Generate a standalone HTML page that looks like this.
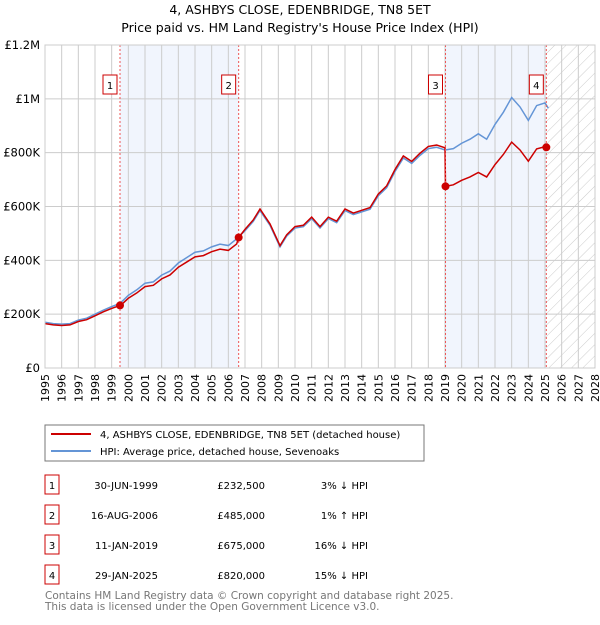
<!DOCTYPE html>
<html><head><meta charset="utf-8"><style>
body{margin:0;background:#fff;font-family:"Liberation Sans","DejaVu Sans",sans-serif;}
svg text{font-family:"DejaVu Sans","Liberation Sans",sans-serif;}
</style></head><body>
<svg id="chart" width="600" height="620" xmlns="http://www.w3.org/2000/svg">
<text x="300" y="14" font-size="12.5" text-anchor="middle">4, ASHBYS CLOSE, EDENBRIDGE, TN8 5ET</text>
<text x="300" y="32" font-size="12.5" text-anchor="middle">Price paid vs. HM Land Registry's House Price Index (HPI)</text>
<defs><pattern id="hatch" width="8" height="8" patternUnits="userSpaceOnUse" patternTransform="rotate(45)"><line x1="0" y1="0" x2="0" y2="8" stroke="#ccc" stroke-width="1"/></pattern></defs>
<g id="plot"></g>
<rect x="45" y="425" width="379" height="36" fill="#fff" stroke="#777"/>
<line x1="51" y1="434" x2="91" y2="434" stroke="#cc0000" stroke-width="2"/>
<text x="100" y="438" font-size="10">4, ASHBYS CLOSE, EDENBRIDGE, TN8 5ET (detached house)</text>
<line x1="51" y1="451" x2="91" y2="451" stroke="#6495d6" stroke-width="2"/>
<text x="100" y="455" font-size="10">HPI: Average price, detached house, Sevenoaks</text>
<g id="table" font-size="10"></g>
<text x="45" y="599" font-size="10.5" fill="#777">Contains HM Land Registry data © Crown copyright and database right 2025.</text>
<text x="45" y="610" font-size="10.5" fill="#777">This data is licensed under the Open Government Licence v3.0.</text>
</svg>
<script>
const hpiYears=[1995,1995.5,1996,1996.5,1997,1997.5,1998,1998.5,1999,1999.5,2000,2000.5,2001,2001.5,2002,2002.5,2003,2003.5,2004,2004.5,2005,2005.5,2006,2006.5,2007,2007.5,2007.9,2008.5,2009.1,2009.5,2010,2010.5,2011,2011.5,2012,2012.5,2013,2013.5,2014,2014.5,2015,2015.5,2016,2016.5,2017,2017.5,2018,2018.5,2019,2019.5,2020,2020.5,2021,2021.5,2022,2022.5,2023,2023.5,2024,2024.5,2025,2025.2];
const hpiValues=[170,165,163,165,178,185,200,215,228,240,270,290,315,320,345,360,390,410,430,435,450,460,455,480,510,545,585,530,450,490,520,525,555,520,555,540,585,570,580,590,640,670,730,780,760,790,815,820,810,815,835,850,870,850,905,950,1005,970,920,975,985,965];
const saleYears=[1999.5,2006.62,2019.03,2025.08];
const salePrices=[232500,485000,675000,820000];
const saleLabels=["1","2","3","4"];
const saleDates=["30-JUN-1999","16-AUG-2006","11-JAN-2019","29-JAN-2025"];
const salePriceText=["£232,500","£485,000","£675,000","£820,000"];
const saleHpiText=["3% ↓ HPI","1% ↑ HPI","16% ↓ HPI","15% ↓ HPI"];
const segFactors=[0.97,0.96,1.01,0.835,0.85];
const yTicks=[0,200000,400000,600000,800000,1000000,1200000];
const yTickLabels=["£0","£200K","£400K","£600K","£800K","£1M","£1.2M"];
const xStart=1995,xEnd=2028;
const X0=45,X1=595,Y0=368,Y1=45;
const xs=y=>X0+(y-xStart)/(xEnd-xStart)*(X1-X0);
const ys=v=>Y0-v/1200000*(Y0-Y1);
const NS="http://www.w3.org/2000/svg";
const g=document.getElementById('plot');
function mk(tag,attrs,parent){const e=document.createElementNS(NS,tag);for(const k in attrs)e.setAttribute(k,attrs[k]);(parent||g).appendChild(e);return e;}
for(const [a,b] of [[0,1],[2,3]]){
 const r=mk('rect',{x:xs(saleYears[a]),y:Y1,width:xs(saleYears[b])-xs(saleYears[a]),height:Y0-Y1,fill:'#eef3fc',opacity:0.8});
 
 
}
const hr=mk('rect',{x:xs(2025),y:Y1,width:X1-xs(2025),height:Y0-Y1,fill:'url(#hatch)'});


for(let yr=xStart;yr<=xEnd;yr++){
 const l=mk('line',{x1:xs(yr),x2:xs(yr),y1:Y1,y2:Y0,stroke:'#ccc','stroke-width':1});
 
 
 const t=mk('text',{x:0,y:0,'font-size':11,'text-anchor':'end',transform:`translate(${xs(yr)+4},${Y0+6}) rotate(-90)`});
 t.textContent=yr;
 
 
}
yTicks.forEach((v,i)=>{
 const l=mk('line',{x1:X0,x2:X1,y1:ys(v),y2:ys(v),stroke:'#ccc','stroke-width':1});
 
 
 const t=mk('text',{x:X0-5,y:ys(v)+4,'font-size':11.5,'text-anchor':'end'});
 t.textContent=yTickLabels[i];
 
 
});
const hp=mk('polyline',{points:hpiYears.map((y,i)=>xs(y)+','+ys(hpiValues[i]*1000)).join(' '),fill:'none',stroke:'#6495d6','stroke-width':1.5});


function seg(y){let s=0;while(s<saleYears.length&&y>=saleYears[s])s++;return s;}
const pts=[];
hpiYears.forEach((y,i)=>{
 const s=seg(y);
 saleYears.forEach((sy,k)=>{ if(k+1===s && pts.length && pts[pts.length-1][0]<sy){pts.push([sy,salePrices[k]]);} });
 pts.push([y,hpiValues[i]*1000*segFactors[s]]);
});
const pp=mk('polyline',{points:pts.map(p=>xs(p[0])+','+ys(p[1])).join(' '),fill:'none',stroke:'#cc0000','stroke-width':1.5});


saleYears.forEach((sy,i)=>{
 const l=mk('line',{x1:xs(sy),x2:xs(sy),y1:Y1,y2:Y0,stroke:'#e55','stroke-width':1,'stroke-dasharray':'2,2'});
 
 
 const c=mk('circle',{cx:xs(sy),cy:ys(salePrices[i]),r:4,fill:'#cc0000'});
 
 
 const bx=mk('rect',{x:xs(sy)-17,y:75,width:14,height:19,fill:'#fff',stroke:'#cc0000'});
 
 
 const t=mk('text',{x:xs(sy)-10,y:89,'font-size':10,'text-anchor':'middle'});
 t.textContent=saleLabels[i];
 
 
});
const ax=mk('rect',{x:X0,y:Y1,width:X1-X0,height:Y0-Y1,fill:'none',stroke:'#ccc'});


const tb=document.getElementById('table');
saleLabels.forEach((lab,i)=>{
 const y=475+i*30;
 const b=mk('rect',{x:45,y:y,width:14,height:19,fill:'#fff',stroke:'#cc0000'},tb);
 
 
 const cells=[[52,lab,'middle','row-number'],[158,saleDates[i],'end','row-date'],[265,salePriceText[i],'end','row-price'],[368,saleHpiText[i],'end','row-hpi-diff']];
 cells.forEach(c=>{
  const t=mk('text',{x:c[0],y:y+14,'text-anchor':c[2]},tb);
  t.textContent=c[1];
  
  
 });
});
</script>
</body></html>
